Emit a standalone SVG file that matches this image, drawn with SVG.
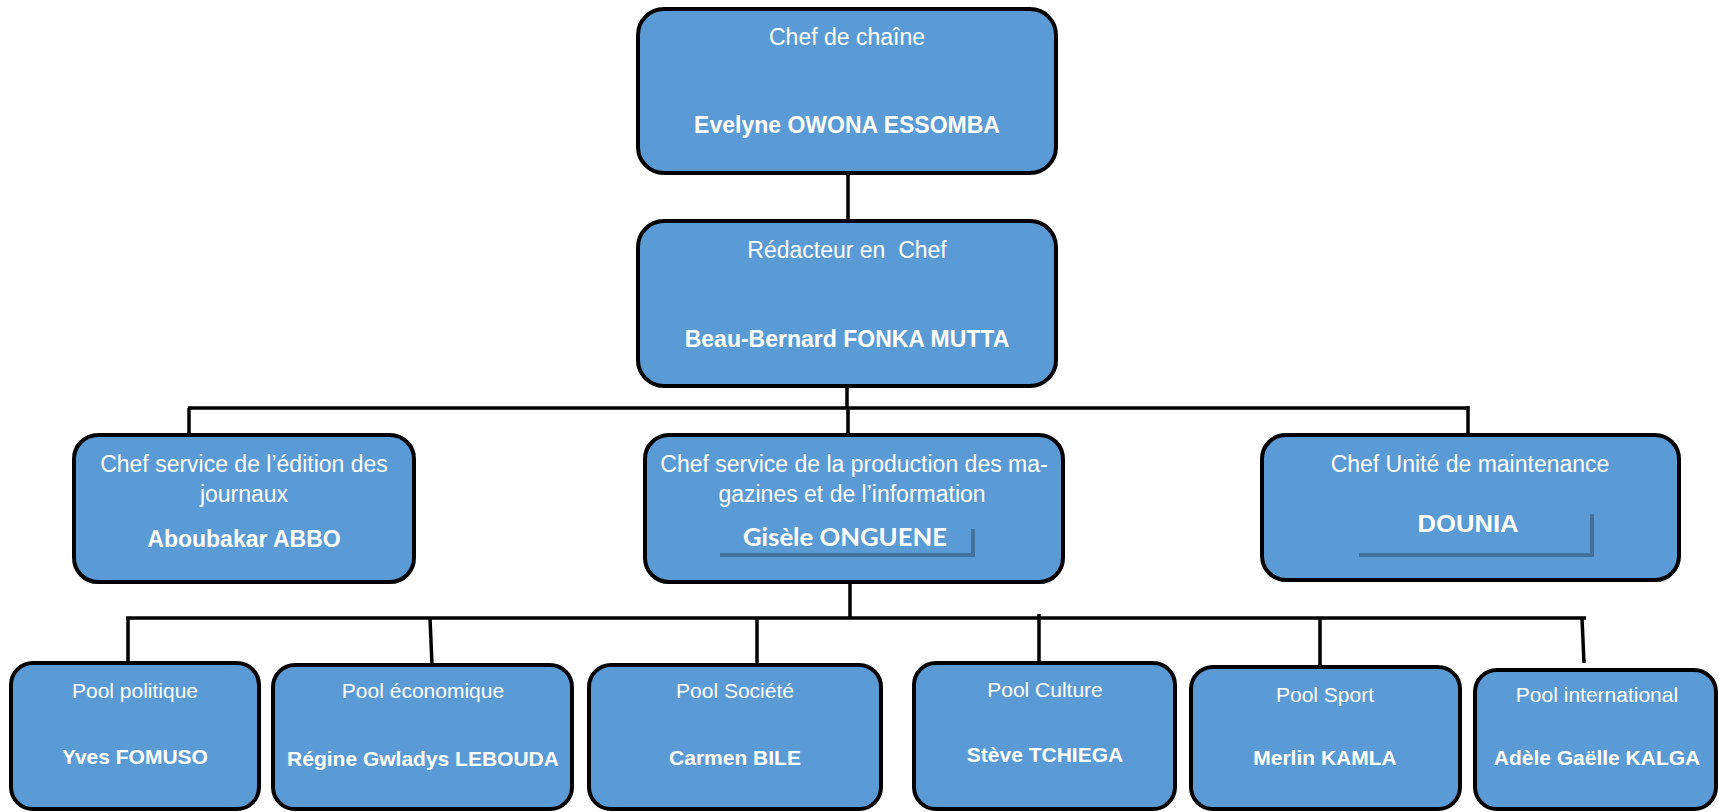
<svg xmlns="http://www.w3.org/2000/svg" width="1719" height="812" viewBox="0 0 1719 812">
<style>
.box{fill:#5B9BD5;stroke:#000;stroke-width:4}
.t{font-family:"Liberation Sans",Arial,sans-serif;fill:#fff;text-anchor:middle;font-size:23px;white-space:pre}
.b{font-weight:bold}
.s{font-size:21px}
.c{stroke:#000;stroke-width:3.5;fill:none}
.sh{stroke:#41719C;stroke-width:4;fill:none}
</style>
<rect width="1719" height="812" fill="#fff"/>
<g id="connectors">
<path class="c" d="M848 173V221"/>
<path class="c" d="M847 386V408"/>
<path class="c" d="M188 408H1469"/>
<path class="c" d="M189 408V435M848 408V435M1468 406V435"/>
<path class="c" d="M850 582V618"/>
<path class="c" d="M126 618H1586"/>
<path class="c" d="M128 618V663M430 618L432 665M757 618V665M1039 614V663M1320 618V667M1582 618L1584 663"/>
</g>
<g id="n-chef-chaine">
<rect class="box" x="638" y="9" width="418" height="164" rx="26"/>
<text class="t" x="847" y="45">Chef de chaîne</text>
<text class="t b" x="847" y="133">Evelyne OWONA ESSOMBA</text>
</g>
<g id="n-redacteur">
<rect class="box" x="638" y="221" width="418" height="165" rx="26"/>
<text class="t" x="847" y="258">Rédacteur en  Chef</text>
<text class="t b" x="847" y="347">Beau-Bernard FONKA MUTTA</text>
</g>
<g id="n-edition">
<rect class="box" x="74" y="435" width="340" height="147" rx="24"/>
<text class="t" x="244" y="472">Chef service de l’édition des</text>
<text class="t" x="244" y="502">journaux</text>
<text class="t b" x="244" y="547">Aboubakar ABBO</text>
</g>
<g id="n-production">
<rect class="box" x="645" y="435" width="418" height="147" rx="24"/>
<text class="t" x="854" y="472">Chef service de la production des ma-</text>
<text class="t" x="852" y="502">gazines et de l’information</text>
<path class="sh" d="M720 555H973V529"/>
<text class="t b" x="845" y="546" style="font-family:Lato,'Open Sans',sans-serif;font-size:25px" textLength="204" lengthAdjust="spacingAndGlyphs">Gisèle ONGUENE</text>
</g>
<g id="n-maintenance">
<rect class="box" x="1262" y="435" width="417" height="145" rx="24"/>
<text class="t" x="1470" y="472">Chef Unité de maintenance</text>
<path class="sh" d="M1359 555H1592V514"/>
<text class="t b" x="1468" y="532" style="font-size:24px" textLength="101" lengthAdjust="spacingAndGlyphs">DOUNIA</text>
</g>
<g id="n-politique">
<rect class="box" x="11" y="663" width="248" height="146" rx="22"/>
<text class="t s" x="135" y="698">Pool politique</text>
<text class="t s b" x="135" y="764">Yves FOMUSO</text>
</g>
<g id="n-economique">
<rect class="box" x="273" y="665" width="299" height="144" rx="22"/>
<text class="t s" x="423" y="698">Pool économique</text>
<text class="t s b" x="423" y="766">Régine Gwladys LEBOUDA</text>
</g>
<g id="n-societe">
<rect class="box" x="589" y="665" width="292" height="144" rx="22"/>
<text class="t s" x="735" y="698">Pool Société</text>
<text class="t s b" x="735" y="765">Carmen BILE</text>
</g>
<g id="n-culture">
<rect class="box" x="914" y="663" width="261" height="146" rx="22"/>
<text class="t s" x="1045" y="697">Pool Culture</text>
<text class="t s b" x="1045" y="762">Stève TCHIEGA</text>
</g>
<g id="n-sport">
<rect class="box" x="1191" y="667" width="269" height="142" rx="22"/>
<text class="t s" x="1325" y="702">Pool Sport</text>
<text class="t s b" x="1325" y="765">Merlin KAMLA</text>
</g>
<g id="n-international">
<rect class="box" x="1475" y="670" width="241" height="139" rx="22"/>
<text class="t s" x="1597" y="702">Pool international</text>
<text class="t s b" x="1597" y="765">Adèle Gaëlle KALGA</text>
</g>
</svg>
